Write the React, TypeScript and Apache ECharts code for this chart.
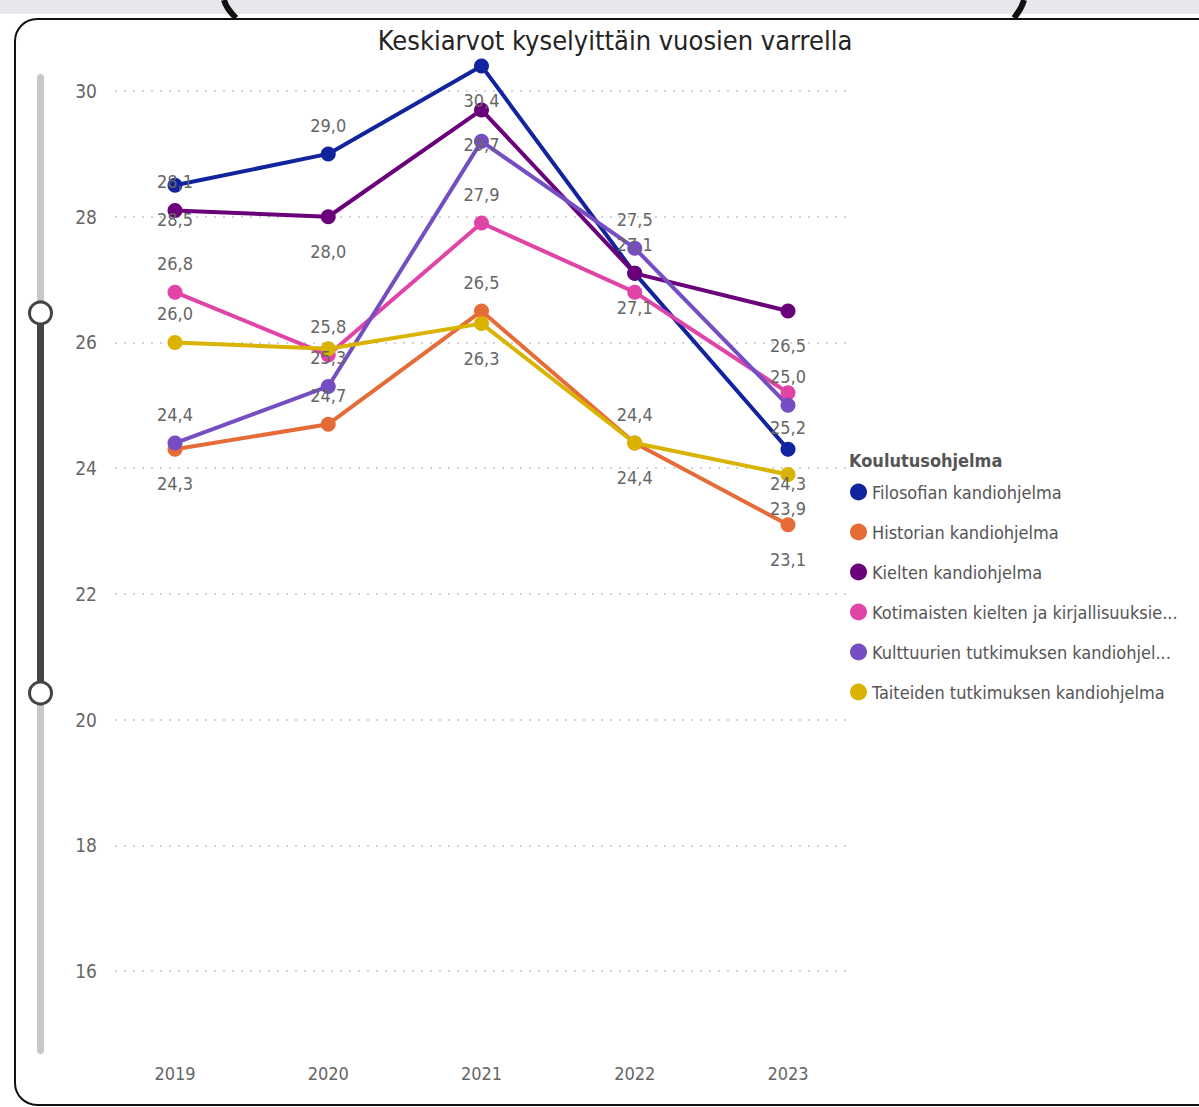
import React, { useEffect, useRef } from "react";
import * as echarts from "echarts";

const years = [2019, 2020, 2021, 2022, 2023];
const seriesNames = [
  "Filosofian kandiohjelma",
  "Historian kandiohjelma",
  "Kielten kandiohjelma",
  "Kotimaisten kielten ja kirjallisuuksien kandiohjelma",
  "Kulttuurien tutkimuksen kandiohjelma",
  "Taiteiden tutkimuksen kandiohjelma",
];
const filosofian = [28.5, 29.0, 30.4, 27.1, 24.3];
const historian = [24.3, 24.7, 26.5, 24.4, 23.1];
const kielten = [28.1, 28.0, 29.7, 27.1, 26.5];
const kotimaisten = [26.8, 25.8, 27.9, 26.8, 25.2];
const kulttuurien = [24.4, 25.3, 29.2, 27.5, 25.0];
const taiteiden = [26.0, 25.9, 26.3, 24.4, 23.9];
const yTicks = [16, 18, 20, 22, 24, 26, 28, 30];

const allValues = [filosofian, historian, kielten, kotimaisten, kulttuurien, taiteiden];
const colors = ["#12239E", "#E66C37", "#6B007B", "#E044A7", "#744EC2", "#D9B300"];
// where Power BI put each data label: t = above, b = below, - = hidden
const labelSides = [
  ["b", "t", "b", "t", "b"],
  ["b", "t", "t", "b", "b"],
  ["t", "b", "b", "b", "b"],
  ["t", "t", "t", "-", "b"],
  ["t", "t", "-", "t", "t"],
  ["t", "-", "b", "t", "b"],
];

const FONT = "'Liberation Sans Narrow', 'DejaVu Sans Condensed', 'Noto Sans', sans-serif";
const TITLE_FONT = "'DejaVu Sans Condensed', 'Liberation Sans Narrow', 'Noto Sans', sans-serif";
const fmt = (v: number) => v.toFixed(1).replace(".", ",");

export default function App() {
  const ref = useRef<HTMLDivElement>(null);
  useEffect(() => {
    if (!ref.current) return;
    const chart = echarts.init(ref.current, null, { renderer: "svg" });
    const series = allValues.map((arr, si) => ({
      type: "line",
      name: seriesNames[si],
      color: colors[si],
      symbol: "circle",
      symbolSize: 15,
      showAllSymbol: true,
      lineStyle: { width: 4 },
      label: {
        show: true,
        color: "#666",
        fontSize: 18,
        fontFamily: FONT,
        formatter: (p: any) => fmt(p.value[1]),
      },
      emphasis: { disabled: true },
      data: arr.map((v, i) => {
        const side = labelSides[si][i];
        return {
          value: [years[i], v],
          label:
            side === "-"
              ? { show: false }
              : { show: true, position: side === "t" ? "top" : "bottom", distance: side === "t" ? 12 : 18 },
        };
      }),
    }));
    chart.setOption({
      animation: false,
      grid: { left: 115, top: 65.9, width: 735, height: 968 },
      xAxis: {
        type: "value",
        min: 2018.6085,
        max: 2023.4046,
        axisLine: { show: false },
        axisTick: { show: false, customValues: years },
        splitLine: { show: false },
        axisLabel: {
          customValues: years,
          formatter: (v: number) => String(v),
          color: "#666",
          fontSize: 18,
          fontFamily: FONT,
          margin: 31,
        },
      },
      yAxis: {
        type: "value",
        min: 15,
        max: 30.4,
        axisLine: { show: false },
        axisTick: { show: false, customValues: yTicks },
        axisLabel: {
          customValues: yTicks,
          color: "#666",
          fontSize: 19,
          fontFamily: FONT,
          margin: 18,
        },
        splitLine: { show: true, lineStyle: { color: "#c4c4c4", width: 1.5, type: [2, 7] } },
      },
      legend: {
        orient: "vertical",
        left: 845,
        top: 478,
        icon: "circle",
        itemWidth: 17,
        itemHeight: 17,
        itemGap: 22,
        data: seriesNames,
        textStyle: {
          color: "#555",
          fontSize: 18,
          fontFamily: FONT,
          width: 310,
          overflow: "truncate",
          ellipsis: "...",
        },
      },
      graphic: [
        { type: "rect", z: -20, shape: { x: 0, y: 0, width: 1199, height: 14 }, style: { fill: "#e8e8ec" } },
        { type: "bezierCurve", z: -19, shape: { x1: 224, y1: 0, cpx1: 226, cpy1: 8, x2: 236, y2: 18 }, style: { stroke: "#111", lineWidth: 6, fill: "none" } },
        { type: "bezierCurve", z: -19, shape: { x1: 1024, y1: 0, cpx1: 1022, cpy1: 8, x2: 1014, y2: 18 }, style: { stroke: "#111", lineWidth: 6, fill: "none" } },
        { type: "rect", z: -18, shape: { x: 15, y: 19, width: 1220, height: 1086, r: 22 }, style: { fill: "#fff", stroke: "#111", lineWidth: 2 } },
        { type: "rect", z: 5, shape: { x: 37, y: 74, width: 7, height: 980, r: 3.5 }, style: { fill: "#c8c8c8" } },
        { type: "rect", z: 6, shape: { x: 37, y: 313, width: 7, height: 380 }, style: { fill: "#444" } },
        { type: "circle", z: 7, shape: { cx: 40.5, cy: 313, r: 11 }, style: { fill: "#fff", stroke: "#444", lineWidth: 3 } },
        { type: "circle", z: 7, shape: { cx: 40.5, cy: 693, r: 11 }, style: { fill: "#fff", stroke: "#444", lineWidth: 3 } },
        {
          type: "text",
          z: 10,
          x: 615,
          y: 40,
          style: {
            text: "Keskiarvot kyselyittäin vuosien varrella",
            align: "center",
            verticalAlign: "middle",
            fontSize: 27,
            fill: "#252423",
            fontFamily: TITLE_FONT,
          },
        },
        {
          type: "text",
          z: 10,
          x: 849,
          y: 460,
          style: {
            text: "Koulutusohjelma",
            align: "left",
            verticalAlign: "middle",
            fontSize: 18,
            fontWeight: "bold",
            fill: "#555",
            fontFamily: FONT,
          },
        },
      ],
      series,
    });
    return () => chart.dispose();
  }, []);
  return (
    <div
      ref={ref}
      style={{ position: "fixed", left: 0, top: 0, width: 1199, height: 1107, background: "#fff" }}
    />
  );
}
